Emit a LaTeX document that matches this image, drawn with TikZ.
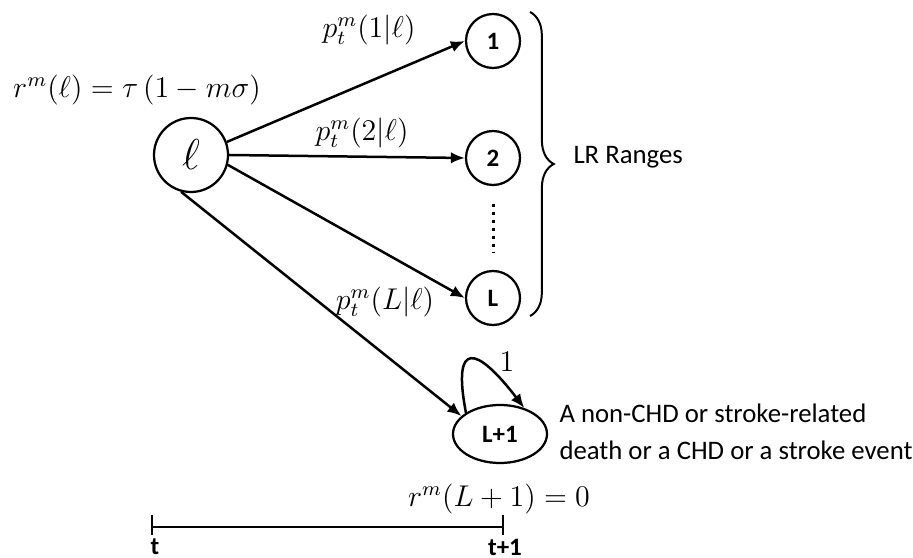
\documentclass[tikz,border=0pt]{standalone}
\usepackage{fontspec}
\newfontfamily\calfont{Carlito}
\usetikzlibrary{decorations.pathreplacing,arrows.meta,shapes.geometric,calc}
\begin{document}
\begin{tikzpicture}[x=0.4pt,y=-0.4pt,
  st/.style={draw,circle,line width=0.9pt,inner sep=0pt,minimum size=21.6pt,font=\calfont\bfseries\fontsize{10}{11}\selectfont},
  arr/.style={line width=1pt,-{Latex[length=5.6pt,width=4.6pt]}},
  mth/.style={font=\fontsize{12}{14}\selectfont,inner sep=0pt},
  txt/.style={font=\calfont\fontsize{10.7}{14.8}\selectfont,inner sep=0pt,align=left}]
\useasboundingbox (0,0) rectangle (913,558);
\node[st,minimum size=29.6pt,font=\fontsize{17}{19}\selectfont] (l) at (191,155) {$\ell$};
\node[st] (n1) at (493,41) {1};
\node[st] (n2) at (493,158) {2};
\node[st] (nL) at (493,298) {L};
\node[draw,ellipse,line width=0.9pt,inner sep=0pt,minimum width=37.6pt,minimum height=23.2pt,font=\calfont\bfseries\fontsize{10}{11}\selectfont] (e) at (500,434) {L+1};
\draw[arr] (l.20) -- (n1.west) ;
\draw[arr] (l.east) -- (n2.west);
\draw[arr] (l.-15) -- (nL.west);
\draw[arr] (l.-105) -- (e.155);
\draw[line width=1.2pt,dotted,shorten <=7pt,shorten >=7pt] (n2.south) -- (nL.north);
\draw[arr] (e.148) .. controls (452,340) and (476,345) .. (e.47);
\node[mth] (one) at (507,362) {$1$};
\node[mth] (p1) at (369,30) {$p_t^m(1|\ell)$};
\node[mth] (p2) at (362,133) {$p_t^m(2|\ell)$};
\node[mth] (pL) at (385,302) {$p_t^m(L|\ell)$};
\node[mth] (rl) at (137,90) {$r^m(\ell)=\tau\,(1-m\sigma)$};
\node[mth] (rL) at (499,499) {$r^m(L+1)=0$};
\coordinate (bt) at (530,12);
\coordinate (bb) at (530,316);
\draw[line width=0.8pt,decorate,decoration={brace,amplitude=9.5pt}] (bt) -- (bb);
\node[txt,anchor=west] (lr) at (573,157) {LR Ranges};
\node[txt,anchor=west] (desc) at (559,432) {A non-CHD or stroke-related\\death or a CHD or a stroke event};
\coordinate (ta) at (152,527);
\coordinate (tb) at (503,527);
\draw[line width=1pt] (ta) -- (tb);
\draw[line width=1pt] ($(ta)+(0,-12)$) -- ($(ta)+(0,8)$);
\draw[line width=1pt] ($(tb)+(0,-12)$) -- ($(tb)+(0,8)$);
\node[txt,font=\calfont\bfseries\fontsize{10}{11}\selectfont] (tl) at (155,547) {t};
\node[txt,font=\calfont\bfseries\fontsize{10}{11}\selectfont] (tr) at (505,547) {t+1};
\end{tikzpicture}
\end{document}
